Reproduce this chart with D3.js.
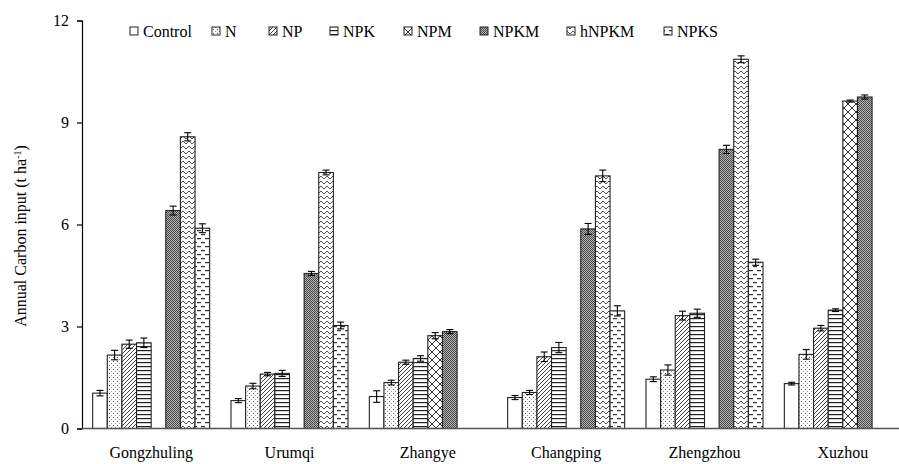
<!DOCTYPE html>
<html>
<head>
<meta charset="utf-8">
<script src="https://cdn.jsdelivr.net/npm/d3@7"></script>
<style>
  html, body { margin: 0; padding: 0; background: #fff; }
  svg { display: block; }
  svg text { font-family: "Liberation Serif", "Times New Roman", serif; }
</style>
</head>
<body>
<svg id="chart" width="899" height="464"></svg>
<script>
// ---- data ----
const sites = ["Gongzhuling", "Urumqi", "Zhangye", "Changping", "Zhengzhou", "Xuzhou"];
const treatments = ["Control", "N", "NP", "NPK", "NPM", "NPKM", "hNPKM", "NPKS"];
const yTicks = [0, 3, 6, 9, 12];

const valControl = [1.04, 0.82, 0.94, 0.91, 1.45, 1.32];
const valN       = [2.16, 1.25, 1.35, 1.06, 1.72, 2.18];
const valNP      = [2.48, 1.60, 1.95, 2.11, 3.32, 2.95];
const valNPK     = [2.52, 1.62, 2.06, 2.38, 3.39, 3.48];
const valNPM     = [null, null, 2.73, null, null, 9.63];
const valNPKM    = [6.41, 4.56, 2.85, 5.87, 8.21, 9.75];
const valhNPKM   = [8.58, 7.53, null, 7.43, 10.86, null];
const valNPKS    = [5.89, 3.03, null, 3.46, 4.89, null];

const errControl = [0.08, 0.06, 0.17, 0.06, 0.07, 0.04];
const errN       = [0.14, 0.08, 0.07, 0.06, 0.15, 0.14];
const errNP      = [0.12, 0.05, 0.06, 0.14, 0.13, 0.08];
const errNPK     = [0.14, 0.09, 0.08, 0.15, 0.12, 0.04];
const errNPM     = [null, null, 0.09, null, null, 0.03];
const errNPKM    = [0.13, 0.06, 0.06, 0.16, 0.12, 0.06];
const errhNPKM   = [0.12, 0.07, null, 0.17, 0.10, null];
const errNPKS    = [0.13, 0.10, null, 0.15, 0.09, null];

const values = [valControl, valN, valNP, valNPK, valNPM, valNPKM, valhNPKM, valNPKS];
const errors = [errControl, errN, errNP, errNPK, errNPM, errNPKM, errhNPKM, errNPKS];

// ---- layout ----
const svg = d3.select("#chart");
const plotLeft = 82, plotBottom = 428.5, plotTop = 20.5;
const serif = "Liberation Serif, Times New Roman, serif";

const y = d3.scaleLinear().domain([0, 12]).range([plotBottom, plotTop]);
const x0 = d3.scaleBand().domain(sites).range([plotLeft, 912]).padding(0);
const groupW = 117;
const x1 = d3.scaleBand().domain(treatments).range([0, groupW]).padding(0);

// ---- patterns ----
const defs = svg.append("defs");
function pat(id, w, h) {
  return defs.append("pattern").attr("id", id).attr("patternUnits", "userSpaceOnUse")
    .attr("width", w).attr("height", h);
}
let p;
p = pat("p-Control", 4, 4);
p.append("rect").attr("width", 4).attr("height", 4).attr("fill", "#fff");
p = pat("p-N", 4, 4);
p.append("rect").attr("width", 4).attr("height", 4).attr("fill", "#fff");
p.append("rect").attr("x", 1).attr("y", 1).attr("width", 1).attr("height", 1).attr("fill", "#555");
p.append("rect").attr("x", 3).attr("y", 3).attr("width", 1).attr("height", 1).attr("fill", "#999");
p = pat("p-NP", 4, 4);
p.append("rect").attr("width", 4).attr("height", 4).attr("fill", "#fff");
p.append("path").attr("d", "M-1,1 L1,-1 M0,4 L4,0 M3,5 L5,3").attr("stroke", "#444").attr("stroke-width", 1);
p = pat("p-NPK", 4, 4);
p.append("rect").attr("width", 4).attr("height", 4).attr("fill", "#fff");
p.append("rect").attr("x", 0).attr("y", 2).attr("width", 4).attr("height", 1.2).attr("fill", "#222");
p = pat("p-NPM", 8, 8);
p.append("rect").attr("width", 8).attr("height", 8).attr("fill", "#fff");
p.append("path").attr("d", "M0,0 L8,8 M8,0 L0,8").attr("stroke", "#333").attr("stroke-width", 1);
p = pat("p-NPKM", 2, 2);
p.append("rect").attr("width", 2).attr("height", 2).attr("fill", "#b4b4b4");
p.append("rect").attr("x", 0).attr("y", 0).attr("width", 1).attr("height", 1).attr("fill", "#4a4a4a");
p.append("rect").attr("x", 1).attr("y", 1).attr("width", 1).attr("height", 1).attr("fill", "#4a4a4a");
p = pat("p-hNPKM", 6, 5);
p.append("rect").attr("width", 6).attr("height", 5).attr("fill", "#fff");
p.append("path").attr("d", "M0,4 L3,1 L6,4").attr("fill", "none").attr("stroke", "#555").attr("stroke-width", 1);
p = pat("p-NPKS", 8, 8);
p.append("rect").attr("width", 8).attr("height", 8).attr("fill", "#fff");
p.append("rect").attr("x", 1).attr("y", 2).attr("width", 4).attr("height", 1.2).attr("fill", "#333");
p.append("rect").attr("x", 5).attr("y", 6).attr("width", 4).attr("height", 1.2).attr("fill", "#333");
p.append("rect").attr("x", -3).attr("y", 6).attr("width", 4).attr("height", 1.2).attr("fill", "#333");

// ---- bars ----
const rows = [];
sites.forEach((s, si) => {
  treatments.forEach((t, ti) => {
    const v = values[ti][si];
    if (v !== null && v !== undefined) rows.push({ site: s, t: t, v: v, e: errors[ti][si] });
  });
});
const gx = s => x0(s) + (x0.bandwidth() - groupW) / 2;

svg.append("g").selectAll("rect").data(rows).join("rect")
  .attr("x", d => gx(d.site) + x1(d.t))
  .attr("y", d => y(d.v))
  .attr("width", x1.bandwidth())
  .attr("height", d => y(0) - y(d.v))
  .attr("fill", d => "url(#p-" + d.t + ")")
  .attr("stroke", "#222")
  .attr("stroke-width", 1.1);

// ---- error bars ----
const eg = svg.append("g").attr("stroke", "#000").attr("stroke-width", 1.1);
rows.forEach(d => {
  const cx = gx(d.site) + x1(d.t) + x1.bandwidth() / 2;
  const y1 = y(d.v + d.e), y2 = y(d.v - d.e);
  eg.append("line").attr("x1", cx).attr("x2", cx).attr("y1", y1).attr("y2", y2);
  eg.append("line").attr("x1", cx - 3.5).attr("x2", cx + 3.5).attr("y1", y1).attr("y2", y1);
  eg.append("line").attr("x1", cx - 3.5).attr("x2", cx + 3.5).attr("y1", y2).attr("y2", y2);
});

// ---- axes ----
const yAxis = d3.axisLeft(y).tickValues(yTicks).tickSize(5).tickPadding(8).tickFormat(d3.format("d"));
const ya = svg.append("g").attr("transform", `translate(${plotLeft},0)`).call(yAxis)
  .attr("font-family", serif);
ya.select(".domain").attr("stroke", "#000").attr("stroke-width", 1.2);
ya.selectAll(".tick line").attr("stroke", "#000").attr("stroke-width", 1.2);
ya.selectAll("text").attr("font-size", 16).attr("fill", "#000").attr("font-family", serif);

svg.append("line").attr("x1", plotLeft).attr("x2", 899).attr("y1", plotBottom).attr("y2", plotBottom)
  .attr("stroke", "#555").attr("stroke-width", 1.5);

svg.append("g").selectAll("text").data(sites).join("text")
  .attr("x", d => x0(d) + x0.bandwidth() / 2)
  .attr("y", 458)
  .attr("text-anchor", "middle")
  .attr("font-size", 16)
  .attr("font-family", serif)
  .attr("fill", "#000")
  .text(d => d);

const yt = svg.append("text")
  .attr("transform", "translate(26,236) rotate(-90)")
  .attr("text-anchor", "middle")
  .attr("font-size", 16)
  .attr("font-family", serif)
  .attr("fill", "#000");
yt.append("tspan").text("Annual Carbon input (t ha");
yt.append("tspan").attr("font-size", 10).attr("baseline-shift", "super").text("-1");
yt.append("tspan").text(")");

// ---- legend ----
const legendX = [130, 212, 269, 330, 404, 480, 567, 664];
const lg = svg.append("g");
treatments.forEach((t, i) => {
  lg.append("rect").attr("x", legendX[i]).attr("y", 27).attr("width", 8).attr("height", 8)
    .attr("fill", "url(#p-" + t + ")").attr("stroke", "#222").attr("stroke-width", 1);
  lg.append("text").attr("x", legendX[i] + 13).attr("y", 36.5)
    .attr("font-size", 16).attr("font-family", serif).attr("fill", "#000").text(t);
});
</script>
</body>
</html>
